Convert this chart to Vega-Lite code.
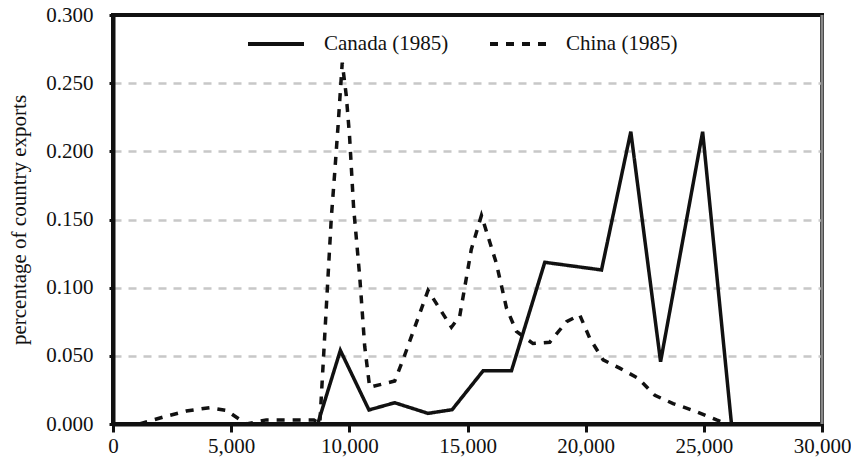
{
  "$schema": "https://vega.github.io/schema/vega-lite/v6.json",
  "width": 709,
  "height": 409,
  "autosize": {"type": "none"},
  "padding": {"left": 113, "top": 15, "right": 29, "bottom": 45},
  "background": "white",
  "config": {
    "view": {"stroke": "#111", "strokeWidth": 4},
    "font": "Liberation Serif",
    "axis": {"labelFont": "Liberation Serif", "titleFont": "Liberation Serif", "labelColor": "#111", "titleColor": "#111"}
  },
  "datasets": {
    "lines": [
      {"x": 1000, "y": 0, "series": "Canada (1985)"},
      {"x": 8660, "y": 0, "series": "Canada (1985)"},
      {"x": 9620, "y": 0.054, "series": "Canada (1985)"},
      {"x": 10830, "y": 0.0103, "series": "Canada (1985)"},
      {"x": 11920, "y": 0.0156, "series": "Canada (1985)"},
      {"x": 13330, "y": 0.0078, "series": "Canada (1985)"},
      {"x": 14350, "y": 0.0105, "series": "Canada (1985)"},
      {"x": 15660, "y": 0.039, "series": "Canada (1985)"},
      {"x": 16860, "y": 0.039, "series": "Canada (1985)"},
      {"x": 18270, "y": 0.1186, "series": "Canada (1985)"},
      {"x": 20670, "y": 0.113, "series": "Canada (1985)"},
      {"x": 21910, "y": 0.2144, "series": "Canada (1985)"},
      {"x": 23170, "y": 0.0457, "series": "Canada (1985)"},
      {"x": 24950, "y": 0.2144, "series": "Canada (1985)"},
      {"x": 26170, "y": 0, "series": "Canada (1985)"},
      {"x": 1120, "y": 0, "series": "China (1985)"},
      {"x": 2110, "y": 0.005, "series": "China (1985)"},
      {"x": 3100, "y": 0.0095, "series": "China (1985)"},
      {"x": 4085, "y": 0.012, "series": "China (1985)"},
      {"x": 4790, "y": 0.01, "series": "China (1985)"},
      {"x": 5640, "y": 0, "series": "China (1985)"},
      {"x": 6485, "y": 0.003, "series": "China (1985)"},
      {"x": 7400, "y": 0.003, "series": "China (1985)"},
      {"x": 8500, "y": 0.003, "series": "China (1985)"},
      {"x": 8750, "y": 0.0, "series": "China (1985)"},
      {"x": 9240, "y": 0.152, "series": "China (1985)"},
      {"x": 9380, "y": 0.184, "series": "China (1985)"},
      {"x": 9520, "y": 0.218, "series": "China (1985)"},
      {"x": 9700, "y": 0.265, "series": "China (1985)"},
      {"x": 9870, "y": 0.241, "series": "China (1985)"},
      {"x": 10010, "y": 0.211, "series": "China (1985)"},
      {"x": 10180, "y": 0.159, "series": "China (1985)"},
      {"x": 10440, "y": 0.108, "series": "China (1985)"},
      {"x": 10650, "y": 0.057, "series": "China (1985)"},
      {"x": 10860, "y": 0.027, "series": "China (1985)"},
      {"x": 11920, "y": 0.0315, "series": "China (1985)"},
      {"x": 12270, "y": 0.047, "series": "China (1985)"},
      {"x": 13330, "y": 0.098, "series": "China (1985)"},
      {"x": 14320, "y": 0.071, "series": "China (1985)"},
      {"x": 14670, "y": 0.079, "series": "China (1985)"},
      {"x": 15160, "y": 0.128, "series": "China (1985)"},
      {"x": 15590, "y": 0.153, "series": "China (1985)"},
      {"x": 16220, "y": 0.118, "series": "China (1985)"},
      {"x": 16650, "y": 0.085, "series": "China (1985)"},
      {"x": 17070, "y": 0.068, "series": "China (1985)"},
      {"x": 17770, "y": 0.059, "series": "China (1985)"},
      {"x": 18480, "y": 0.06, "series": "China (1985)"},
      {"x": 19190, "y": 0.075, "series": "China (1985)"},
      {"x": 19750, "y": 0.08, "series": "China (1985)"},
      {"x": 20170, "y": 0.063, "series": "China (1985)"},
      {"x": 20740, "y": 0.047, "series": "China (1985)"},
      {"x": 21440, "y": 0.041, "series": "China (1985)"},
      {"x": 22220, "y": 0.0335, "series": "China (1985)"},
      {"x": 22930, "y": 0.021, "series": "China (1985)"},
      {"x": 23700, "y": 0.015, "series": "China (1985)"},
      {"x": 24620, "y": 0.0095, "series": "China (1985)"},
      {"x": 25540, "y": 0.003, "series": "China (1985)"},
      {"x": 26000, "y": 0.0, "series": "China (1985)"}
    ],
    "edge": [{"x": 30000}]
  },
  "layer": [
    {
      "data": {"name": "lines"},
      "mark": {"type": "line", "color": "#111", "strokeWidth": 3.5, "clip": true},
      "encoding": {
        "x": {
          "field": "x", "type": "quantitative",
          "scale": {"domain": [0, 30000], "nice": false, "zero": false},
          "axis": {
            "title": null, "values": [0, 5000, 10000, 15000, 20000, 25000, 30000], "format": ",d",
            "grid": false, "domainColor": "#111", "domainWidth": 4, "tickColor": "#111", "tickWidth": 3,
            "tickSize": 8, "labelFontSize": 21, "labelPadding": 3, "labelFlush": false
          }
        },
        "y": {
          "field": "y", "type": "quantitative",
          "scale": {"domain": [0, 0.3], "nice": false},
          "axis": {
            "title": "percentage of country exports", "titleFontSize": 21, "titleFontWeight": "normal", "titlePadding": 16,
            "values": [0, 0.05, 0.1, 0.15, 0.2, 0.25, 0.3], "format": ".3f",
            "grid": true, "gridColor": "#c8c8c8", "gridDash": [8, 7], "gridWidth": 2.5,
            "gridOpacity": {"condition": {"test": "datum.value >= 0.29 || datum.value <= 0.001", "value": 0}, "value": 1},
            "domainColor": "#111", "domainWidth": 4, "tickColor": "#111", "tickWidth": 3, "tickSize": 4,
            "labelFontSize": 21, "labelPadding": 16
          }
        },
        "strokeDash": {
          "field": "series", "type": "nominal",
          "scale": {"domain": ["Canada (1985)", "China (1985)"], "range": [[1, 0], [8, 8]]},
          "legend": {
            "title": null, "orient": "none", "legendX": 133, "legendY": -1, "direction": "horizontal",
            "symbolType": "stroke", "symbolSize": 3136, "symbolStrokeWidth": 4,
            "labelFontSize": 21, "labelFont": "Liberation Serif", "labelColor": "#111", "labelOffset": 18,
            "columnPadding": 33,
            "encode": {"symbols": {"update": {"stroke": {"signal": "datum.value === 'China (1985)' ? '#9a9a9a' : '#111'"}}}}
          }
        }
      }
    },
    {
      "data": {"name": "edge"},
      "mark": {"type": "rule", "color": "#888", "strokeWidth": 3},
      "encoding": {"x": {"field": "x", "type": "quantitative"}}
    }
  ]
}
